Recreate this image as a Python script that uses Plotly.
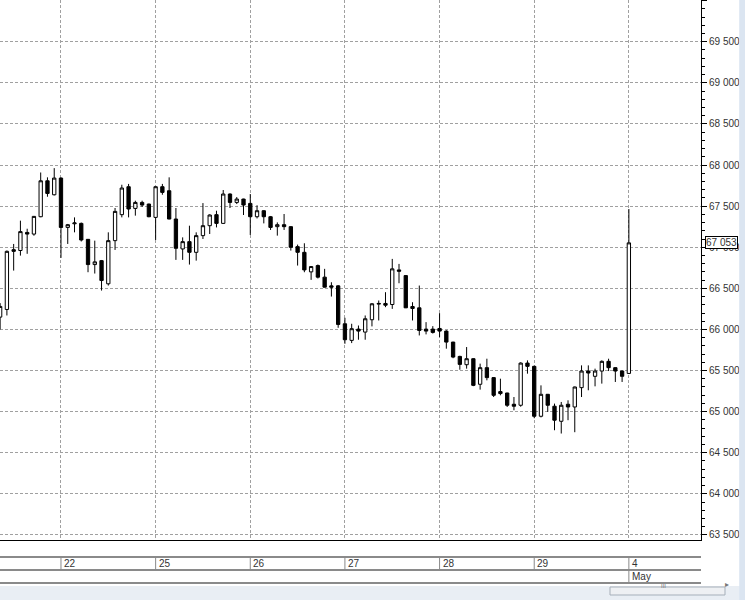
import plotly.graph_objects as go

# hourly bars, 14 per session; index 0 is the first bar of the 22nd
bar_index = list(range(-9, 85))

open_prices = [
    66150, 66243, 66970, 66960, 67180, 67160, 67371, 67808, 67638,
    67841, 67241, 67285, 67290, 67096, 66789, 66837, 66555, 67080, 67396,
    67736, 67472, 67545, 67525, 67363, 67736, 67687, 67343, 66979, 67068,
    66938, 67141, 67262, 67396, 67290, 67647, 67545, 67586, 67533, 67371,
    67444, 67371, 67250, 67274, 67250, 67007, 66938, 66700, 66777, 66636,
    66530, 66530, 66069, 65867, 66004, 65968, 66118, 66308, 66316, 66303,
    66724, 66655, 66279, 66263, 66004, 66004, 66012, 65980, 65846, 65672,
    65571, 65644, 65333, 65535, 65414, 65244, 65227, 65090, 65078, 65591,
    65551, 64944, 65211, 65066, 64883, 65090, 65057, 65292, 65494, 65430,
    65494, 65612, 65535, 65494, 65465,
]
high_prices = [
    66320, 66960, 67040, 67323, 67225, 67380, 67909, 67850, 67962,
    67850, 67283, 67363, 67300, 67100, 67080, 66845, 67181, 67477, 67760,
    67770, 67566, 67566, 67530, 67740, 67770, 67850, 67477, 67120, 67262,
    67181, 67537, 67400, 67444, 67696, 67655, 67610, 67590, 67647, 67510,
    67450, 67380, 67302, 67404, 67255, 67032, 67048, 66770, 66790, 66737,
    66574, 66540, 66142, 66069, 66048, 66170, 66320, 66352, 66453, 66858,
    66797, 66660, 66331, 66534, 66089, 66040, 66198, 65990, 65850, 65680,
    65786, 65650, 65584, 65644, 65420, 65401, 65230, 65178, 65600, 65624,
    65560, 65320, 65215, 65098, 65118, 65138, 65305, 65563, 65563, 65523,
    65624, 65644, 65540, 65500, 67465,
]
low_prices = [
    66000, 66170, 66716, 66898, 66920, 67140, 67365, 67614, 67630,
    66870, 67040, 67181, 67070, 66696, 66680, 66473, 66534, 66967, 67363,
    67363, 67384, 67490, 67365, 67088, 67638, 67340, 66846, 66846, 66789,
    66837, 67100, 67161, 67241, 67285, 67477, 67525, 67392, 67149, 67350,
    67290, 67210, 67141, 67210, 66959, 66777, 66696, 66603, 66620, 66510,
    66400, 66020, 65826, 65834, 65875, 65875, 66037, 66109, 66271, 66250,
    66562, 66260, 66109, 65927, 65940, 65950, 65907, 65766, 65650, 65510,
    65523, 65310, 65268, 65381, 65178, 65199, 65057, 65017, 65060, 65462,
    64920, 64930, 64997, 64774, 64734, 64896, 64750, 65178, 65260, 65308,
    65341, 65494, 65361, 65361, 65460,
]
close_prices = [
    66280, 66950, 66950, 67190, 67160, 67375, 67808, 67654, 67841,
    67241, 67274, 67295, 67088, 66789, 66822, 66595, 67080, 67436, 67720,
    67465, 67545, 67513, 67371, 67736, 67667, 67343, 66987, 67068, 66938,
    67141, 67262, 67392, 67290, 67647, 67545, 67586, 67513, 67371, 67444,
    67371, 67241, 67274, 67250, 66999, 66938, 66724, 66765, 66636, 66514,
    66514, 66061, 65875, 66009, 65980, 66130, 66312, 66316, 66295, 66737,
    66708, 66263, 66255, 65988, 65980, 65964, 65980, 65846, 65664, 65575,
    65644, 65320, 65535, 65414, 65199, 65220, 65078, 65066, 65591, 65551,
    64944, 65211, 65078, 64896, 65078, 65057, 65300, 65494, 65470, 65494,
    65612, 65535, 65494, 65430, 67053,
]

day_index = [0, 14, 28, 42, 56, 70, 84]
day_labels = ["22", "25", "26", "27", "28", "29", "4<br>May"]

price_ticks = [63500, 64000, 64500, 65000, 65500, 66000, 66500,
               67000, 67500, 68000, 68500, 69000, 69500, 70000]
last_price = 67053

FONT = "Liberation Sans, Arial"
GRID = "#a0a0a0"
PLOT_H = 540  # px height of the price pane

fig = go.Figure(
    go.Candlestick(
        x=bar_index,
        open=open_prices,
        high=high_prices,
        low=low_prices,
        close=close_prices,
        increasing=dict(line=dict(color="black", width=1), fillcolor="white"),
        decreasing=dict(line=dict(color="black", width=1), fillcolor="black"),
        whiskerwidth=0,
        hoverinfo="skip",
    )
)

fig.update_xaxes(
    range=[-9.02, 94.67],
    tickvals=day_index,
    showticklabels=False,
    ticks="",
    showgrid=True,
    gridcolor=GRID,
    griddash="3px,2px",
    gridwidth=1,
    zeroline=False,
    showline=True,
    linecolor="black",
    linewidth=1,
    rangeslider=dict(visible=False),
)

fig.update_yaxes(
    side="right",
    range=[63439, 70007],
    tickvals=price_ticks,
    tickformat=",d",
    showgrid=True,
    gridcolor=GRID,
    griddash="3px,2px",
    gridwidth=1,
    zeroline=False,
    showline=True,
    linecolor="black",
    linewidth=1,
    ticks="outside",
    ticklen=5,
    tickcolor="black",
    minor=dict(tick0=63500, dtick=100, ticks="outside", ticklen=3,
               tickcolor="black", showgrid=False),
    tickfont=dict(family=FONT, size=10, color="#333333"),
)


# date strip under the price pane
def py(px_below):
    return -px_below / PLOT_H


shapes = []
for yy in (17, 30, 43):
    shapes.append(dict(type="line", xref="paper", yref="paper",
                       x0=0, x1=1, y0=py(yy), y1=py(yy),
                       line=dict(color="#8a8a8a", width=2)))
for i, d in enumerate(day_index):
    bottom = 43 if i == len(day_index) - 1 else 30
    shapes.append(dict(type="line", xref="x", yref="paper",
                       x0=d, x1=d, y0=py(17), y1=py(bottom),
                       line=dict(color="#8a8a8a", width=1)))

# window chrome: bottom scrollbar band and right edge
shapes.append(dict(type="rect", xref="paper", yref="paper",
                   x0=-0.01, x1=1.07, y0=py(46), y1=py(61),
                   fillcolor="#e9eef4", line=dict(width=0)))
shapes.append(dict(type="rect", xref="paper", yref="paper",
                   x0=1.0545, x1=1.07, y0=py(61), y1=1.01,
                   fillcolor="#dbe5f1", line=dict(width=0)))
shapes.append(dict(type="rect", xref="paper", yref="paper",
                   x0=610 / 701, x1=725 / 701, y0=py(47), y1=py(55),
                   fillcolor="#eef0f3", line=dict(color="#a6afb9", width=1)))

annotations = []
for d, lab in zip(day_index, day_labels):
    annotations.append(dict(
        x=d, xref="x", y=0, yref="paper", yanchor="top", xanchor="left",
        xshift=1, yshift=-16, text=lab, align="left", showarrow=False,
        font=dict(family=FONT, size=10, color="#333333"),
    ))

annotations.append(dict(
    x=1, xref="paper", y=last_price, yref="y", xanchor="left", yanchor="middle",
    xshift=4, text=f"{last_price:,}".replace(",", " "), showarrow=False,
    bgcolor="white", bordercolor="black", borderwidth=1, borderpad=0,
    font=dict(family=FONT, size=10, color="#333333"),
))
annotations.append(dict(
    x=667.5 / 701, xref="paper", y=py(51), yref="paper", text="III",
    showarrow=False, font=dict(family=FONT, size=6, color="#777777"),
))
annotations.append(dict(
    x=731 / 701, xref="paper", y=py(51), yref="paper", text="▸",
    showarrow=False, font=dict(size=8, color="#777777"),
))

fig.update_layout(
    width=745,
    height=600,
    margin=dict(l=0, r=44, t=0, b=60),
    paper_bgcolor="white",
    plot_bgcolor="white",
    separators=". ",
    showlegend=False,
    shapes=shapes,
    annotations=annotations,
)

fig.write_html(
    "out.html",
    config={"displayModeBar": False},
    post_script="document.body.style.margin='0';document.body.style.overflow='hidden';",
)
